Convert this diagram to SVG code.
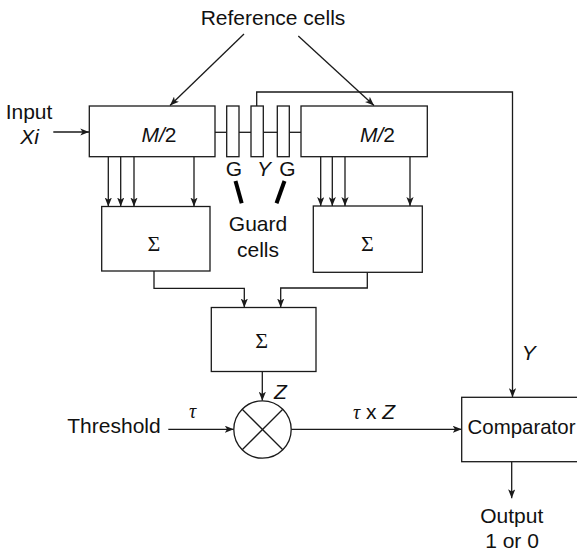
<svg xmlns="http://www.w3.org/2000/svg" width="577" height="552" viewBox="0 0 577 552">
<style>
  .box{fill:#fff;stroke:#1a1a1a;stroke-width:1.3}
  .ln{fill:none;stroke:#1a1a1a;stroke-width:1.3}
  .arr{fill:none;stroke:#1a1a1a;stroke-width:1.3;marker-end:url(#ah)}
  .thick{stroke:#000;stroke-width:4;stroke-linecap:butt}
  .t{font-family:"Liberation Sans",Arial,sans-serif;font-size:21px;fill:#111}
  .it{font-style:italic}
  .sig{font-family:"Liberation Serif","Times New Roman",serif;font-size:22px;fill:#111;text-anchor:middle}
  .tau{font-family:"Liberation Serif","Times New Roman",serif;font-style:italic;font-size:20px;fill:#111}
  .mid{text-anchor:middle}
</style>
<defs>
  <marker id="ah" markerUnits="userSpaceOnUse" viewBox="0 0 10 8" refX="10" refY="4" markerWidth="9" markerHeight="7.5" orient="auto">
    <path d="M0,0 L10,4 L0,8 L2.5,4 Z" fill="#1a1a1a"/>
  </marker>
</defs>
<rect width="577" height="552" fill="#fff"/>

<g id="connectors">
  <line class="arr" x1="244" y1="34" x2="170" y2="105.5"/>
  <line class="arr" x1="298.3" y1="36" x2="374" y2="105.5"/>
  <line class="arr" x1="53.3" y1="132" x2="89.3" y2="132"/>
  <line class="ln" x1="215" y1="132.3" x2="226.7" y2="132.3"/>
  <line class="ln" x1="239" y1="132.3" x2="251" y2="132.3"/>
  <line class="ln" x1="263.3" y1="132.3" x2="277.3" y2="132.3"/>
  <line class="ln" x1="289.3" y1="132.3" x2="301" y2="132.3"/>
  <path class="arr" d="M256.7,106 V92 H512.5 V397.3"/>
  <line class="arr" x1="108.3" y1="156.7" x2="108.3" y2="206.5"/>
  <line class="arr" x1="120.7" y1="156.7" x2="120.7" y2="206.5"/>
  <line class="arr" x1="134" y1="156.7" x2="134" y2="206.5"/>
  <line class="arr" x1="194" y1="156.7" x2="194" y2="206.5"/>
  <line class="arr" x1="320.7" y1="156.7" x2="320.7" y2="206"/>
  <line class="arr" x1="332.3" y1="156.7" x2="332.3" y2="206"/>
  <line class="arr" x1="345" y1="156.7" x2="345" y2="206"/>
  <line class="arr" x1="410" y1="156.7" x2="410" y2="206"/>
  <line class="thick" x1="235.5" y1="181" x2="241.7" y2="203.3"/>
  <line class="thick" x1="284.5" y1="181" x2="276.5" y2="203.3"/>
  <path class="arr" d="M154,271 V288.3 H244.3 V307.5"/>
  <path class="arr" d="M367.3,272.3 V288 H280.7 V307.5"/>
  <line class="arr" x1="262.3" y1="371.5" x2="262.3" y2="400.7"/>
  <line class="arr" x1="168.3" y1="429.3" x2="233.8" y2="429.3"/>
  <line class="arr" x1="291.2" y1="429.3" x2="461.7" y2="429.3"/>
  <line class="arr" x1="511.7" y1="461.7" x2="511.7" y2="498.3"/>
</g>

<g id="ref-label"><text class="t mid" x="273" y="25">Reference cells</text></g>
<g id="input-label">
  <text class="t mid" x="29" y="119.3">Input</text>
  <text class="t it mid" x="29.5" y="144.3">Xi</text>
</g>

<g id="left-window">
  <rect class="box" x="89.3" y="106" width="125.7" height="50.7"/>
  <text class="t" x="141.5" y="142.3"><tspan class="it">M/</tspan>2</text>
</g>
<g id="guard-left"><rect class="box" x="226.7" y="106" width="12.3" height="50.7"/></g>
<g id="cell-under-test"><rect class="box" x="251" y="106" width="12.3" height="50.7"/></g>
<g id="guard-right"><rect class="box" x="277.3" y="106" width="12" height="50.7"/></g>
<g id="right-window">
  <rect class="box" x="301" y="106" width="126.3" height="50.7"/>
  <text class="t" x="360" y="142.3"><tspan class="it">M/</tspan>2</text>
</g>

<g id="cell-labels">
  <text class="t mid" x="234" y="176">G</text>
  <text class="t it mid" x="264" y="176">Y</text>
  <text class="t mid" x="287.5" y="176">G</text>
</g>
<g id="guard-label">
  <text class="t mid" x="258" y="230.7">Guard</text>
  <text class="t mid" x="258" y="256.7">cells</text>
</g>

<g id="sum-left">
  <rect class="box" x="101.7" y="206.5" width="108.3" height="64.5"/>
  <text class="sig" x="154" y="250.5">Σ</text>
</g>
<g id="sum-right">
  <rect class="box" x="313.3" y="206" width="109" height="66.3"/>
  <text class="sig" x="367.3" y="250.5">Σ</text>
</g>
<g id="sum-total">
  <rect class="box" x="211.3" y="307.5" width="104.7" height="64"/>
  <text class="sig" x="261.7" y="348">Σ</text>
</g>
<g id="z-label"><text class="t it" x="274" y="399">Z</text></g>

<g id="multiplier">
  <circle class="box" cx="262.5" cy="429.5" r="28.7"/>
  <line class="ln" x1="242.2" y1="409.2" x2="282.8" y2="449.8"/>
  <line class="ln" x1="282.8" y1="409.2" x2="242.2" y2="449.8"/>
</g>

<g id="threshold">
  <text class="t" x="67.3" y="433.3">Threshold</text>
  <text class="tau" x="189" y="418.3">τ</text>
</g>
<g id="product-label">
  <text class="t" x="353" y="419.3"><tspan class="tau">τ</tspan> x <tspan class="it">Z</tspan></text>
</g>
<g id="y-label"><text class="t it" x="521.7" y="360">Y</text></g>

<g id="comparator">
  <rect class="box" x="461.7" y="397.3" width="140" height="64.4"/>
  <text class="t" x="467.5" y="434" textLength="108" lengthAdjust="spacingAndGlyphs">Comparator</text>
</g>
<g id="output">
  <text class="t mid" x="511.7" y="523.3">Output</text>
  <text class="t mid" x="512" y="548.3">1 or 0</text>
</g>
</svg>
